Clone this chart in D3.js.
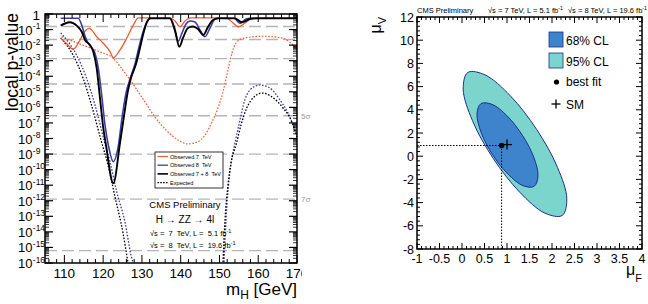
<!DOCTYPE html>
<html><head><meta charset="utf-8">
<script src="https://cdn.jsdelivr.net/npm/d3@7"></script>
<style>
body{margin:0;background:#fff}
svg{display:block}
text{font-family:"Liberation Sans",Arial,Helvetica,sans-serif}
</style>
</head><body>
<svg id="c" width="648" height="304"></svg>
<script>
// ---------------- LEFT PANEL DATA (mass in GeV, log10 of local p-value) ----------------
const obs7_mass = [109.05,110.42,112.30,114.03,115.32,116.43,118.34,120.04,121.77,122.62,124.34,126.07,127.78,129.07,137.24,138.53,139.82,141.11,142.40,151.69,153.23,154.86,156.59,158.65,170];
const obs7_logp = [-1.56,-1.86,-2.27,-1.67,-1.09,-0.92,-1.46,-1.88,-2.42,-2.81,-2.31,-1.56,-0.71,-0.25,-0.25,-0.45,-0.82,-0.45,-0.25,-0.25,-0.51,-0.82,-0.58,-0.25,-0.25];

const obs8_mass = [109.05,113.59,114.47,115.32,116.09,117.12,117.90,118.75,119.62,120.47,121.33,122.62,123.91,124.86,125.89,126.92,128.21,129.25,130.28,131.31,132.34,137.24,138.27,139.38,140.34,141.37,142.40,143.69,144.98,146.27,147.56,148.85,149.62,153.75,155.30,156.84,157.88,170];
const obs8_logp = [-0.27,-0.27,-0.71,-1.41,-1.86,-2.18,-2.53,-3.49,-5.20,-7.13,-8.42,-9.49,-8.48,-6.68,-5.08,-4.18,-3.21,-2.12,-1.16,-0.51,-0.27,-0.27,-0.90,-1.73,-1.22,-0.64,-0.45,-0.51,-1.03,-1.46,-0.90,-0.32,-0.27,-0.27,-0.60,-0.32,-0.27,-0.27];

const comb_mass = [109.05,110.16,111.45,113.18,114.47,115.32,116.61,117.46,118.34,119.19,120.04,120.73,122.62,124.34,125.38,126.28,127.18,128.47,129.50,130.41,131.31,132.08,137.24,138.53,139.64,140.59,141.88,143.17,144.46,145.83,147.04,148.33,149.62,154.01,155.74,157.88,159.61,170];
const comb_logp = [-0.75,-0.61,-0.53,-0.75,-1.14,-1.67,-1.99,-2.42,-3.49,-5.42,-7.34,-8.42,-10.88,-8.29,-6.55,-5.08,-4.11,-3.21,-2.18,-1.22,-0.51,-0.28,-0.28,-1.03,-2.10,-1.54,-0.90,-0.80,-0.96,-1.35,-0.84,-0.39,-0.28,-0.28,-0.53,-0.32,-0.28,-0.28];

const exp7_mass = [109.31,114.03,119.19,122.62,125.63,128.21,130.79,133.37,136.21,139.30,141.88,144.21,146.27,148.07,149.62,150.91,152.20,153.23,154.27,156.07,161.23,166.39,168.71,170];
const exp7_logp = [-1.46,-1.93,-2.44,-2.85,-3.79,-4.69,-5.65,-6.62,-7.45,-8.10,-8.35,-8.23,-7.78,-6.94,-6.04,-5.01,-3.60,-2.51,-1.86,-1.56,-1.43,-1.56,-1.93,-2.25];

const exp8_massLow  = [109.05,113.12,115.70,117.90,120.22,121.77,123.57,125.63,127.18,127.70,127.96];
const exp8_logpLow  = [-1.22,-2.63,-4.11,-5.85,-8.10,-9.51,-11.50,-13.37,-15.49,-16.0,-16.45];
const exp8_massHigh = [151.04,151.17,151.69,152.46,153.23,154.27,155.30,156.15,157.88,160.46,163.04,165.61,167.68,168.97,170.0];
const exp8_logpHigh = [-16.77,-16.0,-13.24,-10.67,-9.25,-7.97,-6.81,-5.85,-4.88,-4.56,-4.76,-5.53,-6.36,-7.13,-7.78];

const expComb_massLow  = [109.05,112.22,114.80,116.99,119.44,121.25,123.06,125.12,126.41,126.92];
const expComb_logpLow  = [-1.54,-2.63,-4.11,-5.85,-8.10,-9.70,-11.76,-14.07,-16.0,-16.77];
const expComb_massHigh = [150.78,150.91,151.43,152.20,152.97,154.27,155.56,157.03,158.91,160.97,163.55,166.39,168.45,169.48,170.0];
const expComb_logpHigh = [-16.77,-16.0,-13.24,-10.99,-9.57,-8.42,-7.13,-6.04,-5.33,-5.08,-5.33,-6.04,-6.81,-7.52,-7.90];

const sigmaNames = ["1σ","2σ","3σ","4σ","5σ","6σ","7σ","8σ"];
const sigmaP     = [0.1587,0.02275,1.35e-3,3.167e-5,2.867e-7,9.866e-10,1.28e-12,6.221e-16];
const sigmaShown = ["5σ","7σ"];

const massTicks = [110,120,130,140,150,160,170];
const pExponents = d3.range(0,-17,-1);

const legendLabels = ["Observed 7  TeV","Observed 8  TeV","Observed 7 + 8  TeV","Expected"];

// ---------------- RIGHT PANEL DATA (mu_F, mu_V) ----------------
const cl95_muF = [2.227,1.844,1.282,0.693,0.233,0.027,0.129,0.511,1.073,1.662,2.122,2.329];
const cl95_muV = [-5.11,-4.91,-3.10,-0.19,3.06,5.78,7.22,7.01,5.21,2.29,-0.96,-3.67];
const cl68_muF = [1.602,1.356,1.018,0.678,0.427,0.333,0.420,0.667,1.004,1.344,1.596,1.689];
const cl68_muV = [-2.60,-2.54,-1.53,0.14,2.03,3.64,4.53,4.47,3.47,1.79,-0.10,-1.71];
const bestFit = [0.88, 0.92];
const smPoint = [1, 1];
const muFTicks = [-1,-0.5,0,0.5,1,1.5,2,2.5,3,3.5,4];
const muVTicks = [-8,-6,-4,-2,0,2,4,6,8,10,12];

// ---------------- DRAW ----------------
const svg = d3.select("#c");
const C = {red:"#ee5a32", blue:"#3d3da6", black:"#000", grid:"#b5b5b5",
           in68:"#3d84cc", out95:"#7bd5cc", edge:"#1d2f8a"};

// ===== Left panel =====
const L = {x0:45, x1:297, y0:14, y1:263};
const xm = d3.scaleLinear().domain([105,170]).range([L.x0,L.x1]);
const yp = d3.scaleLog().domain([1e-16,1]).range([L.y1,L.y0]);

const defs = svg.append("defs");
defs.append("clipPath").attr("id","clipL").append("rect")
  .attr("x",L.x0).attr("y",L.y0).attr("width",L.x1-L.x0).attr("height",L.y1-L.y0);
defs.append("clipPath").attr("id","clipLab").append("rect")
  .attr("x",0).attr("y",0).attr("width",302).attr("height",304);

const gL = svg.append("g");

// sigma lines
gL.append("g").selectAll("line").data(sigmaP).join("line")
  .attr("x1",L.x0).attr("x2",L.x1)
  .attr("y1",d=>yp(d)).attr("y2",d=>yp(d))
  .attr("stroke",C.grid).attr("stroke-width",1.4).attr("stroke-dasharray","12,5");
sigmaShown.forEach(s=>{
  const p = sigmaP[sigmaNames.indexOf(s)];
  gL.append("text").attr("x",301).attr("y",yp(p)+3).attr("font-size",8)
    .attr("fill","#999").text(s);
});

const mk = (m,l)=>m.map((v,i)=>({m:v,p:Math.pow(10,l[i])}));
const line = d3.line().x(d=>xm(d.m)).y(d=>yp(d.p)).curve(d3.curveMonotoneX);
const curves = gL.append("g").attr("clip-path","url(#clipL)");
const drawC = (data,color,w,dash)=>curves.append("path").attr("d",line(data))
  .attr("fill","none").attr("stroke",color).attr("stroke-width",w)
  .attr("stroke-dasharray",dash||null);

drawC(mk(exp7_mass,exp7_logp),C.red,1.2,"1.6,1.6");
drawC(mk(exp8_massLow,exp8_logpLow),C.blue,1.3,"1.6,1.6");
drawC(mk(exp8_massHigh,exp8_logpHigh),C.blue,1.3,"1.6,1.6");
drawC(mk(expComb_massLow,expComb_logpLow),C.black,1.3,"1.6,1.6");
drawC(mk(expComb_massHigh,expComb_logpHigh),C.black,1.3,"1.6,1.6");
drawC(mk(obs7_mass,obs7_logp),C.red,1.3);
drawC(mk(obs8_mass,obs8_logp),C.blue,1.6);
drawC(mk(comb_mass,comb_logp),C.black,1.9);

// ticks
const tk = gL.append("g").attr("stroke","#000");
d3.range(106,171,2).forEach(v=>{
  const len = v%10===0?8:4, x=xm(v);
  tk.append("line").attr("x1",x).attr("x2",x).attr("y1",L.y1).attr("y2",L.y1-len).attr("stroke-width",1);
  tk.append("line").attr("x1",x).attr("x2",x).attr("y1",L.y0).attr("y2",L.y0+len).attr("stroke-width",1);
});
pExponents.forEach(k=>{
  const y=yp(Math.pow(10,k));
  tk.append("line").attr("x1",L.x0).attr("x2",L.x0+8).attr("y1",y).attr("y2",y).attr("stroke-width",1.2);
  tk.append("line").attr("x1",L.x1).attr("x2",L.x1-8).attr("y1",y).attr("y2",y).attr("stroke-width",1.2);
  if(k<0) d3.range(2,10).forEach(j=>{
    const yy=yp(j*Math.pow(10,k));
    tk.append("line").attr("x1",L.x0).attr("x2",L.x0+4).attr("y1",yy).attr("y2",yy).attr("stroke-width",0.8);
    tk.append("line").attr("x1",L.x1).attr("x2",L.x1-4).attr("y1",yy).attr("y2",yy).attr("stroke-width",0.8);
  });
});
gL.append("rect").attr("x",L.x0).attr("y",L.y0).attr("width",L.x1-L.x0).attr("height",L.y1-L.y0)
  .attr("fill","none").attr("stroke","#000").attr("stroke-width",1.5);

// tick labels
pExponents.forEach(k=>{
  const y=yp(Math.pow(10,k));
  if(k===0){
    gL.append("text").attr("x",40).attr("y",y+5.5).attr("text-anchor","end").attr("font-size",13.5).text("1");
  } else {
    gL.append("text").attr("x",32.5).attr("y",y+5).attr("text-anchor","end").attr("font-size",13).text("10");
    gL.append("text").attr("x",32.8).attr("y",y-0.5).attr("font-size",8.5).text(String(k));
  }
});
const xl = gL.append("g").attr("clip-path","url(#clipLab)");
massTicks.forEach(v=>{
  xl.append("text").attr("x",xm(v)).attr("y",277.5).attr("text-anchor","middle").attr("font-size",13.5).text(v);
});

// axis titles
const xt = gL.append("text").attr("x",297).attr("y",295).attr("text-anchor","end").attr("font-size",17);
xt.append("tspan").text("m");
xt.append("tspan").attr("font-size",12).attr("dy",4).text("H");
xt.append("tspan").attr("dy",-4).text(" [GeV]");
gL.append("text").attr("transform","translate(17.5,13) rotate(-90)").attr("text-anchor","end")
  .attr("font-size",17.5).text("local p-value");

// legend
const lg = gL.append("g");
lg.append("rect").attr("x",155).attr("y",152).attr("width",68).attr("height",36)
  .attr("fill","#fff").attr("stroke","#000").attr("stroke-width",0.8);
const lgStyles = [[C.red,1.2,null],[C.blue,1.3,null],[C.black,1.6,null],[C.black,1.1,"1.6,1.2"]];
legendLabels.forEach((t,i)=>{
  const y=156.5+i*8.7;
  lg.append("line").attr("x1",157.5).attr("x2",168).attr("y1",y).attr("y2",y)
    .attr("stroke",lgStyles[i][0]).attr("stroke-width",lgStyles[i][1]).attr("stroke-dasharray",lgStyles[i][2]);
  lg.append("text").attr("x",170).attr("y",y+2).attr("font-size",5.6).attr("xml:space","preserve").text(t);
});

// annotations
gL.append("text").attr("x",185).attr("y",208).attr("text-anchor","middle").attr("font-size",9.5).text("CMS Preliminary");
gL.append("text").attr("x",185).attr("y",223).attr("text-anchor","middle").attr("font-size",10).text("H → ZZ → 4l");
const s1 = gL.append("text").attr("x",150).attr("y",236).attr("font-size",7.5).attr("xml:space","preserve");
s1.append("tspan").text("√s =  7  TeV, L =  5.1 fb");
s1.append("tspan").attr("font-size",5.5).attr("dy",-3).text("-1");
const s2 = gL.append("text").attr("x",150).attr("y",248).attr("font-size",7.5).attr("xml:space","preserve");
s2.append("tspan").text("√s =  8  TeV, L =  19.6 fb");
s2.append("tspan").attr("font-size",5.5).attr("dy",-3).text("-1");

// ===== Right panel =====
const R = {x0:417, x1:642, y0:17, y1:249};
const xF = d3.scaleLinear().domain([-1,4]).range([R.x0,R.x1]);
const yV = d3.scaleLinear().domain([-8,12]).range([R.y1,R.y0]);
const gR = svg.append("g");
defs.append("clipPath").attr("id","clipR").append("rect")
  .attr("x",R.x0).attr("y",R.y0).attr("width",R.x1-R.x0).attr("height",R.y1-R.y0);

const cont = d3.line().x(d=>xF(d[0])).y(d=>yV(d[1])).curve(d3.curveCatmullRomClosed.alpha(0.5));
const pr = gR.append("g").attr("clip-path","url(#clipR)");
pr.append("path").attr("d",cont(cl95_muF.map((v,i)=>[v,cl95_muV[i]])))
  .attr("fill",C.out95).attr("stroke",C.edge).attr("stroke-width",1);
pr.append("path").attr("d",cont(cl68_muF.map((v,i)=>[v,cl68_muV[i]])))
  .attr("fill",C.in68).attr("stroke",C.edge).attr("stroke-width",1);

// best-fit dotted lines
pr.append("line").attr("x1",xF(-1)).attr("x2",xF(bestFit[0])).attr("y1",yV(bestFit[1])).attr("y2",yV(bestFit[1]))
  .attr("stroke","#000").attr("stroke-width",1).attr("stroke-dasharray","1.5,1.5");
pr.append("line").attr("x1",xF(bestFit[0])).attr("x2",xF(bestFit[0])).attr("y1",yV(bestFit[1])).attr("y2",yV(-8))
  .attr("stroke","#000").attr("stroke-width",1).attr("stroke-dasharray","1.5,1.5");
pr.append("circle").attr("cx",xF(bestFit[0])).attr("cy",yV(bestFit[1])).attr("r",2.8).attr("fill","#000");
const plus=(g,x,y,s)=>{
  g.append("line").attr("x1",x-s).attr("x2",x+s).attr("y1",y).attr("y2",y).attr("stroke","#000").attr("stroke-width",1.3);
  g.append("line").attr("x1",x).attr("x2",x).attr("y1",y-s).attr("y2",y+s).attr("stroke","#000").attr("stroke-width",1.3);
};
plus(pr,xF(smPoint[0]),yV(smPoint[1]),5);

// ticks
const tr = gR.append("g").attr("stroke","#000");
d3.range(-10,41).forEach(i=>{
  const v=i/10; const major = i%5===0; const len = major?6:3; const x=xF(v);
  tr.append("line").attr("x1",x).attr("x2",x).attr("y1",R.y1).attr("y2",R.y1-len).attr("stroke-width",1);
  tr.append("line").attr("x1",x).attr("x2",x).attr("y1",R.y0).attr("y2",R.y0+len).attr("stroke-width",1);
});
d3.range(-20,31).forEach(i=>{
  const v=i*0.4; const major = i%5===0; const len = major?6:3; const y=yV(v);
  tr.append("line").attr("x1",R.x0).attr("x2",R.x0+len).attr("y1",y).attr("y2",y).attr("stroke-width",1);
  tr.append("line").attr("x1",R.x1).attr("x2",R.x1-len).attr("y1",y).attr("y2",y).attr("stroke-width",1);
});
gR.append("rect").attr("x",R.x0).attr("y",R.y0).attr("width",R.x1-R.x0).attr("height",R.y1-R.y0)
  .attr("fill","none").attr("stroke","#000").attr("stroke-width",1.5);

muFTicks.forEach(v=>gR.append("text").attr("x",xF(v)).attr("y",263).attr("text-anchor","middle")
  .attr("font-size",12.5).text(v));
muVTicks.forEach(v=>gR.append("text").attr("x",414).attr("y",yV(v)+4.5).attr("text-anchor","end")
  .attr("font-size",12.5).text(v));

const xT = gR.append("text").attr("x",642).attr("y",275).attr("text-anchor","end").attr("font-size",16);
xT.append("tspan").text("μ");
xT.append("tspan").attr("font-size",11).attr("dy",7).text("F");
const yT = gR.append("text").attr("transform","translate(381,17) rotate(-90)").attr("text-anchor","end").attr("font-size",16);
yT.append("tspan").text("μ");
yT.append("tspan").attr("font-size",11).attr("dy",5).text("V");

// header
gR.append("text").attr("x",417).attr("y",12.5).attr("font-size",7.5).text("CMS Preliminary");
const h1 = gR.append("text").attr("x",488).attr("y",12.5).attr("font-size",7.5);
h1.append("tspan").text("√s = 7 TeV, L = 5.1 fb");
h1.append("tspan").attr("font-size",5.3).attr("dy",-3).text("-1");
const h2 = gR.append("text").attr("x",568).attr("y",12.5).attr("font-size",7.5);
h2.append("tspan").text("√s = 8 TeV, L = 19.6 fb");
h2.append("tspan").attr("font-size",5.3).attr("dy",-3).text("-1");

// legend
const rl = gR.append("g");
rl.append("rect").attr("x",549).attr("y",32).attr("width",14).attr("height",15).attr("fill",C.in68).attr("stroke",C.edge).attr("stroke-width",0.8);
rl.append("text").attr("x",566).attr("y",44.5).attr("font-size",12).text("68% CL");
rl.append("rect").attr("x",549).attr("y",53).attr("width",14).attr("height",15).attr("fill",C.out95).attr("stroke",C.edge).attr("stroke-width",0.8);
rl.append("text").attr("x",566).attr("y",65.5).attr("font-size",12).text("95% CL");
rl.append("circle").attr("cx",556.5).attr("cy",82).attr("r",2.6).attr("fill","#000");
rl.append("text").attr("x",566).attr("y",86).attr("font-size",12).text("best fit");
plus(rl,556,104,4.5);
rl.append("text").attr("x",566).attr("y",108.5).attr("font-size",12).text("SM");
</script>
</body></html>
